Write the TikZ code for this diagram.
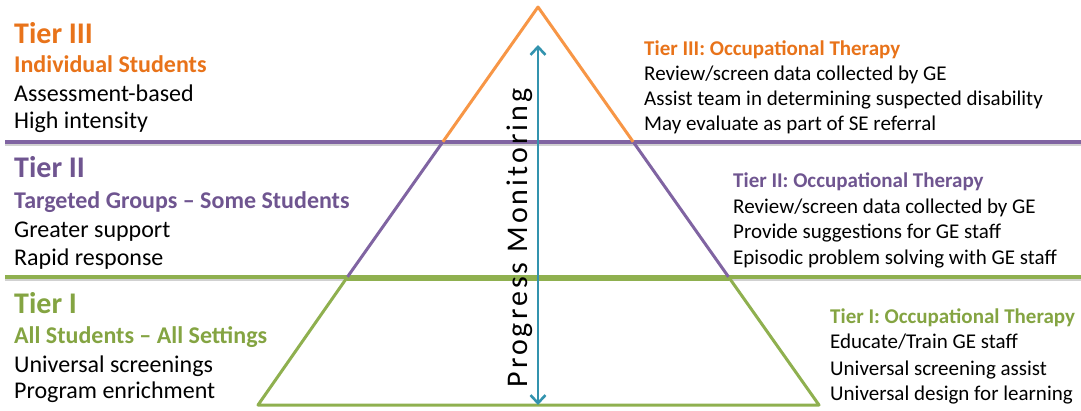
\documentclass[tikz,border=0pt]{standalone}
\usepackage{fontspec}
\setmainfont{Carlito}
\usetikzlibrary{arrows.meta}

\definecolor{tierorange}{HTML}{F79646}
\definecolor{tierorangetext}{HTML}{E8731A}
\definecolor{tierpurple}{HTML}{8064A2}
\definecolor{tierpurpletext}{HTML}{6F5590}
\definecolor{tiergreen}{HTML}{8FB04F}
\definecolor{tiergreentext}{HTML}{84A442}
\definecolor{monitorteal}{HTML}{3393AE}

\begin{document}
\begin{tikzpicture}[x=1pt,y=-1pt,
	tiertitle/.style={anchor=base west, inner sep=0pt, font=\fontsize{30}{36}\selectfont\bfseries},
	tiergroup/.style={anchor=base west, inner sep=0pt, font=\fontsize{24}{28}\selectfont\bfseries},
	tierline/.style={anchor=base west, inner sep=0pt, font=\fontsize{24}{28}\selectfont},
	othead/.style={anchor=base west, inner sep=0pt, font=\fontsize{21}{25}\selectfont\bfseries},
	otline/.style={anchor=base west, inner sep=0pt, font=\fontsize{21}{25}\selectfont},
	divider/.style={line width=3.2pt},
	shadowline/.style={line width=2pt, black!18},
	side/.style={line width=3pt, line join=round}]
	\useasboundingbox (0,0) rectangle (1081,410);
	
	% tier dividers
	\draw[shadowline] (5,145) -- (1081,145);
	\draw[divider, tierpurple] (5,142) -- (1081,142);
	\draw[shadowline] (5,280) -- (1081,280);
	\draw[divider, tiergreen] (5,277) -- (1081,277);
	
	% pyramid
	\coordinate (apex) at (538,7);
	\coordinate (l3) at (442.7,142);
	\coordinate (r3) at (633.3,142);
	\coordinate (l2) at (347.4,277);
	\coordinate (r2) at (728.6,277);
	\coordinate (l1) at (258,405);
	\coordinate (r1) at (819,405);
	
	\draw[side, tierorange] (l3) -- (apex) -- (r3);
	\draw[side, tierpurple] (l2) -- (l3);
	\draw[side, tierpurple] (r3) -- (r2);
	\draw[side, tiergreen] (r2) -- (r1) -- (l1) -- (l2);
	\draw[side, tiergreen] ([yshift=-2pt]l2) -- ([yshift=-2pt]r2);
	
	% progress monitoring
	\coordinate (pmtop) at (538,45);
	\coordinate (pmbot) at (538,405);
	\draw[monitorteal, line width=2.6pt, {Straight Barb[length=8pt,width=15pt]}-{Straight Barb[length=8pt,width=15pt]}] (pmbot) -- (pmtop);
	\node[rotate=90, anchor=base, inner sep=0pt, font=\fontsize{30}{34}\selectfont\addfontfeatures{LetterSpace=10}] (pm) at (527,238) {Progress Monitoring};
	
	% left side
	\node[tiertitle, tierorangetext] (t3) at (14,43) {Tier III};
	\node[tiergroup, tierorangetext] (t3g) at (14,72) {Individual Students};
	\node[tierline] (t3a) at (14,101) {Assessment-based};
	\node[tierline] (t3b) at (14,128) {High intensity};
	
	\node[tiertitle, tierpurpletext] (t2) at (14,177) {Tier II};
	\node[tiergroup, tierpurpletext] (t2g) at (14,208) {Targeted Groups – Some Students};
	\node[tierline] (t2a) at (14,237) {Greater support};
	\node[tierline] (t2b) at (14,265) {Rapid response};
	
	\node[tiertitle, tiergreentext] (t1) at (14,313) {Tier I};
	\node[tiergroup, tiergreentext] (t1g) at (14,343) {All Students – All Settings};
	\node[tierline] (t1a) at (14,372) {Universal screenings};
	\node[tierline] (t1b) at (14,398) {Program enrichment};
	
	% right side
	\node[othead, tierorangetext] (o3) at (644,55) {Tier III: Occupational Therapy};
	\node[otline] (o3a) at (644,80) {Review/screen data collected by GE};
	\node[otline] (o3b) at (644,105) {Assist team in determining suspected disability};
	\node[otline] (o3c) at (644,130) {May evaluate as part of SE referral};
	
	\node[othead, tierpurpletext] (o2) at (733,187) {Tier II: Occupational Therapy};
	\node[otline] (o2a) at (733,213) {Review/screen data collected by GE};
	\node[otline] (o2b) at (733,238) {Provide suggestions for GE staff};
	\node[otline] (o2c) at (733,264) {Episodic problem solving with GE staff};
	
	\node[othead, tiergreentext] (o1) at (830,323) {Tier I: Occupational Therapy};
	\node[otline] (o1a) at (830,348) {Educate/Train GE staff};
	\node[otline] (o1b) at (830,375) {Universal screening assist};
	\node[otline] (o1c) at (830,400) {Universal design for learning};
\end{tikzpicture}
\end{document}
